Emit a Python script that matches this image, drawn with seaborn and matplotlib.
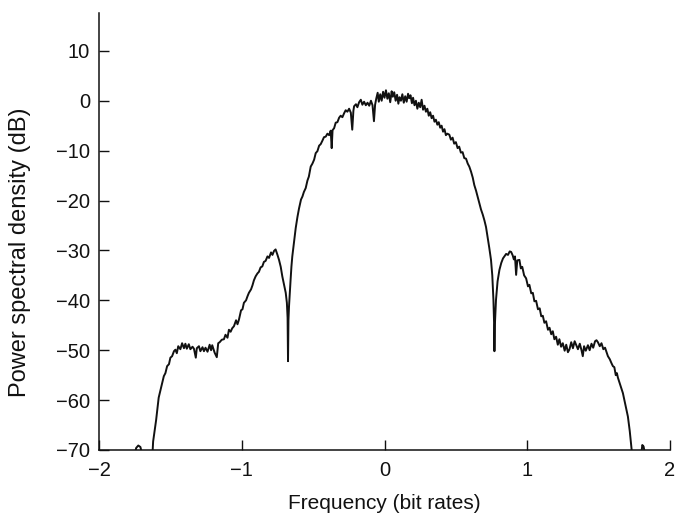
import matplotlib
matplotlib.use("Agg")
import matplotlib.pyplot as plt
import pandas as pd
import seaborn as sns

# Measured power spectral density of the modulated signal (dB) versus
# frequency offset normalised to the bit rate.
freq = [
    -1.800, -1.750, -1.740, -1.725, -1.710, -1.700, -1.680, -1.640, -1.625, -1.621,
    -1.600, -1.582, -1.565, -1.546, -1.535, -1.523, -1.510, -1.500, -1.488, -1.475,
    -1.465, -1.455, -1.445, -1.430, -1.418, -1.405, -1.395, -1.385, -1.371, -1.360,
    -1.345, -1.335, -1.322, -1.315, -1.300, -1.290, -1.275, -1.265, -1.254, -1.240,
    -1.225, -1.215, -1.207, -1.190, -1.175, -1.165, -1.155, -1.140, -1.125, -1.114,
    -1.100, -1.090, -1.078, -1.067, -1.055, -1.040, -1.030, -1.020, -1.005, -0.995,
    -0.985, -0.970, -0.960, -0.950, -0.935, -0.925, -0.915, -0.903, -0.890, -0.880,
    -0.868, -0.856, -0.845, -0.833, -0.820, -0.809, -0.795, -0.785, -0.774, -0.763,
    -0.751, -0.739, -0.727, -0.716, -0.704, -0.692, -0.684, -0.679, -0.676, -0.673,
    -0.669, -0.663, -0.658, -0.652, -0.646, -0.634, -0.622, -0.610, -0.599, -0.585,
    -0.575, -0.565, -0.552, -0.540, -0.530, -0.517, -0.505, -0.493, -0.482, -0.470,
    -0.458, -0.447, -0.435, -0.424, -0.412, -0.400, -0.388, -0.377, -0.370, -0.364,
    -0.353, -0.342, -0.330, -0.318, -0.307, -0.295, -0.283, -0.272, -0.260, -0.248,
    -0.236, -0.226, -0.218, -0.213, -0.200, -0.190, -0.178, -0.166, -0.155, -0.143,
    -0.131, -0.119, -0.107, -0.095, -0.084, -0.074, -0.066, -0.058, -0.048, -0.040,
    -0.030, -0.020, -0.010, 0.000, 0.010, 0.020, 0.030, 0.040, 0.050, 0.058,
    0.068, 0.078, 0.088, 0.097, 0.105, 0.115, 0.125, 0.135, 0.145, 0.155,
    0.165, 0.173, 0.182, 0.192, 0.200, 0.210, 0.220, 0.230, 0.240, 0.250,
    0.260, 0.270, 0.280, 0.290, 0.300, 0.310, 0.320, 0.330, 0.340, 0.350,
    0.360, 0.370, 0.380, 0.390, 0.400, 0.410, 0.420, 0.430, 0.440, 0.454,
    0.465, 0.477, 0.488, 0.500, 0.512, 0.523, 0.535, 0.547, 0.559, 0.571,
    0.583, 0.594, 0.606, 0.618, 0.629, 0.641, 0.653, 0.665, 0.676, 0.688,
    0.700, 0.711, 0.722, 0.734, 0.746, 0.755, 0.763, 0.768, 0.770, 0.773,
    0.781, 0.792, 0.805, 0.818, 0.830, 0.840, 0.852, 0.865, 0.877, 0.887,
    0.898, 0.906, 0.914, 0.922, 0.930, 0.945, 0.955, 0.965, 0.978, 0.992,
    1.005, 1.015, 1.028, 1.039, 1.050, 1.062, 1.075, 1.087, 1.098, 1.109,
    1.120, 1.132, 1.145, 1.156, 1.168, 1.179, 1.190, 1.202, 1.214, 1.225,
    1.237, 1.249, 1.262, 1.273, 1.285, 1.296, 1.308, 1.320, 1.332, 1.342,
    1.355, 1.368, 1.380, 1.389, 1.398, 1.410, 1.425, 1.437, 1.450, 1.462,
    1.475, 1.485, 1.495, 1.508, 1.520, 1.533, 1.545, 1.553, 1.565, 1.578,
    1.590, 1.600, 1.610, 1.620, 1.628, 1.635, 1.650, 1.670, 1.688, 1.705,
    1.718, 1.729, 1.735, 1.760, 1.790, 1.800, 1.806, 1.815, 1.822, 1.840,
    1.900,
]
psd_db = [
    -78.0, -71.0, -69.6, -69.1, -69.4, -70.6, -74.0, -74.0, -70.5, -68.3,
    -64.0, -59.5, -57.5, -55.2, -54.6, -53.2, -52.8, -51.5, -51.2, -50.2,
    -49.9, -50.6, -49.2, -49.8, -48.6, -49.6, -48.7, -49.7, -48.8, -49.8,
    -49.3, -49.7, -51.5, -49.6, -49.2, -50.2, -49.4, -50.2, -49.5, -50.3,
    -48.9, -50.0, -49.0, -50.5, -51.4, -48.6, -48.4, -47.9, -47.8, -46.9,
    -47.5, -45.9, -46.3, -45.6, -45.2, -44.0, -44.8, -43.9, -42.0, -41.8,
    -40.5, -40.0, -39.2, -38.5, -37.8, -37.0, -36.0, -35.2, -34.6, -34.3,
    -33.4, -33.2, -32.3, -32.1, -31.2, -31.5, -30.4, -30.9, -30.1, -29.8,
    -30.8, -31.9, -33.3, -35.2, -36.8, -38.5, -40.5, -43.5, -52.2, -44.0,
    -41.2, -38.2, -35.9, -33.2, -31.2, -28.3, -25.5, -23.3, -21.6, -19.8,
    -19.2, -18.3, -17.5, -16.0, -15.2, -13.2, -12.6, -11.8, -10.5, -10.1,
    -9.0, -8.7, -8.0, -7.3, -7.2, -6.6, -6.9, -6.0, -9.5, -5.9,
    -5.5, -4.4, -4.3, -3.4, -3.0, -3.3, -2.5, -1.9, -2.2, -1.6,
    -2.4, -5.8, -2.0, -1.1, -0.7, -1.3, -0.3, 0.2, -0.8, -0.2,
    -0.9, -0.4, -1.0, 0.0, -0.9, -4.1, -0.8, 0.4, 1.6, -0.2,
    1.3, 0.0, 1.8, 0.6, 2.1, 0.4, 1.5, -0.3, 1.9, 0.8,
    1.7, 0.0, 1.2, -0.6, 0.7, 0.0, 1.3, -0.4, 0.9, -0.2,
    1.4, 0.5, 1.1, -0.5, 0.6, -0.9, 0.0, -1.6, -0.4, -1.3,
    0.2, -1.8, -1.0, -2.2, -1.6, -3.0, -2.3, -3.5, -3.0, -4.2,
    -3.8, -4.8, -4.3, -5.4, -5.0, -6.2, -5.7, -6.9, -6.6, -6.8,
    -7.8, -7.4, -8.6, -8.3, -9.5, -9.2, -10.4, -10.3, -11.5, -11.6,
    -12.6, -13.2, -14.2, -15.4, -16.9, -18.0, -19.3, -20.6, -21.8, -22.8,
    -24.0, -25.3, -27.3, -29.5, -31.9, -35.0, -39.9, -45.0, -50.2, -45.0,
    -39.9, -36.2, -33.9, -32.5, -31.6, -31.2, -30.7, -30.9, -30.2, -30.3,
    -31.0, -31.8, -31.2, -34.9, -32.0, -31.9, -33.6, -33.3, -35.0, -35.6,
    -37.2, -36.9, -38.6, -38.5, -40.2, -40.1, -41.8, -41.6, -43.2, -43.1,
    -44.5, -44.2, -45.9, -45.5, -46.8, -46.2, -47.8, -47.3, -48.9, -47.8,
    -49.3, -48.6, -50.1, -48.9, -50.4, -49.8, -48.4, -49.6, -48.2, -48.9,
    -49.8, -48.7, -50.0, -51.2, -49.2, -50.1, -49.0, -50.0, -48.7, -49.5,
    -48.2, -48.0, -48.4, -49.2, -48.6, -49.8, -49.5, -50.2, -51.2, -51.8,
    -52.6, -53.2, -53.4, -55.0, -54.6, -55.5, -56.8, -58.6, -61.0, -63.3,
    -66.2, -69.3, -71.0, -76.0, -74.0, -70.5, -69.0, -69.3, -70.4, -76.0,
    -80.0,
]

x_ticks = [-2, -1, 0, 1, 2]
y_ticks = [-70, -60, -50, -40, -30, -20, -10, 0, 10]

spectrum = pd.DataFrame({"freq": freq, "psd": psd_db})

sns.set_style("ticks")
plt.rcParams["font.family"] = ["Liberation Sans", "DejaVu Sans"]
ink = "#111111"

fig = plt.figure(figsize=(6.75, 5.17), dpi=100)
ax = fig.add_axes([0.1467, 0.1296, 0.8459, 0.8454])

sns.lineplot(data=spectrum, x="freq", y="psd", sort=False, estimator=None,
             color=ink, linewidth=1.4, ax=ax)

ax.set_xlim(-2, 2)
ax.set_ylim(-70, 17.6)
ax.set_xticks(x_ticks)
ax.set_yticks(y_ticks)

for side in ("top", "right"):
    ax.spines[side].set_visible(False)
for side in ("left", "bottom"):
    ax.spines[side].set_linewidth(1.1)
    ax.spines[side].set_color(ink)

ax.tick_params(axis="both", direction="in", length=7, width=1.0,
               colors=ink, labelsize=14.5)
ax.tick_params(axis="y", pad=6.5)
ax.tick_params(axis="x", pad=8)

ax.set_xlabel("Frequency (bit rates)", fontsize=15, color=ink)
ax.set_ylabel("Power spectral density (dB)", fontsize=17, color=ink)
ax.xaxis.set_label_coords(0.5, -0.100)
ax.yaxis.set_label_coords(-0.119, 0.452)

fig.savefig("out.png", dpi=100)
